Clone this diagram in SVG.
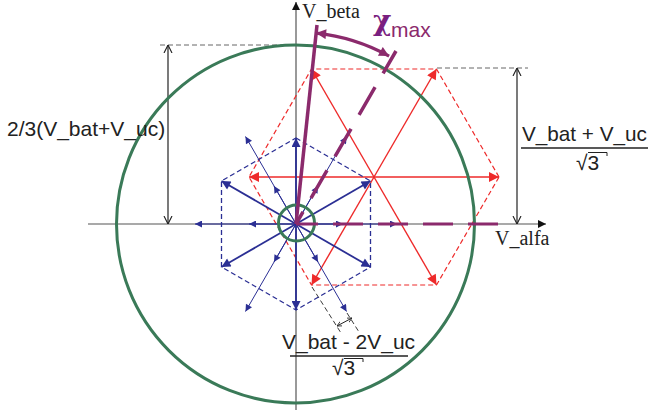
<svg xmlns="http://www.w3.org/2000/svg" width="654" height="416" viewBox="0 0 654 416">
<style>
.ax{stroke:#555;stroke-width:1.2;fill:none}
.dim{stroke:#222;stroke-width:1.2;fill:none}
.ext{stroke:#555;stroke-width:0.9;stroke-dasharray:5 3;fill:none}
.red{stroke:#ee2a2a;stroke-width:1.4;fill:none}
.redd{stroke:#ee2a2a;stroke-width:1.2;stroke-dasharray:5 3;fill:none}
.bt{stroke:#2b2f94;stroke-width:1.8;fill:none}
.bn{stroke:#2b2f94;stroke-width:1;fill:none}
.bd{stroke:#2b2f94;stroke-width:1.3;stroke-dasharray:5 3;fill:none}
.gr{stroke:#3a7a58;stroke-width:3;fill:none}
.pu{stroke:#8b2a6c;stroke-width:3.5;fill:none}
.sans{font-family:"Liberation Sans",Arial,sans-serif;fill:#222}
.serif{font-family:"Liberation Serif","Times New Roman",serif;fill:#222}
</style>
<defs>
<marker id="axh" viewBox="0 0 10 10" refX="10" refY="5" markerUnits="userSpaceOnUse" markerWidth="11" markerHeight="8" orient="auto"><path d="M0,0 L10,5 L0,10 z" fill="#111"/></marker>
<marker id="dimh" viewBox="0 0 10 10" refX="10" refY="5" markerUnits="userSpaceOnUse" markerWidth="8" markerHeight="10" orient="auto-start-reverse"><path d="M0,0 L10,5 L0,10" fill="none" stroke="#222" stroke-width="1.4"/></marker>
<marker id="smh" viewBox="0 0 10 10" refX="10" refY="5" markerUnits="userSpaceOnUse" markerWidth="5" markerHeight="6" orient="auto-start-reverse"><path d="M0,0 L10,5 L0,10" fill="none" stroke="#222" stroke-width="1.6"/></marker>
<marker id="rh" viewBox="0 0 10 10" refX="10" refY="5" markerUnits="userSpaceOnUse" markerWidth="15" markerHeight="10" orient="auto"><path d="M0,0 L10,5 L0,10 z" fill="#ee2a2a"/></marker>
<marker id="bth" viewBox="0 0 10 10" refX="10" refY="5" markerUnits="userSpaceOnUse" markerWidth="13" markerHeight="9" orient="auto"><path d="M0,0 L10,5 L0,10 z" fill="#2b2f94"/></marker>
<marker id="bnh" viewBox="0 0 10 10" refX="10" refY="5" markerUnits="userSpaceOnUse" markerWidth="10" markerHeight="7" orient="auto"><path d="M0,0 L10,5 L0,10 z" fill="#2b2f94"/></marker>
<marker id="ph" viewBox="0 0 10 10" refX="10" refY="5" markerUnits="userSpaceOnUse" markerWidth="14" markerHeight="10" orient="auto-start-reverse"><path d="M0,0 L10,5 L0,10 z" fill="#8b2a6c"/></marker>
</defs>

<g id="axes">
<line class="ax" x1="88" y1="224" x2="546" y2="224" marker-end="url(#axh)"/>
<line class="ax" x1="296" y1="410" x2="296" y2="2" marker-end="url(#axh)"/>
</g>

<g id="dimensions">
<line class="ext" x1="160" y1="45" x2="292" y2="45"/>
<line class="dim" x1="168" y1="45" x2="168" y2="224" marker-start="url(#dimh)" marker-end="url(#dimh)"/>
<line class="ext" x1="437" y1="68" x2="528" y2="68"/>
<line class="dim" x1="517" y1="68" x2="517" y2="224" marker-start="url(#dimh)" marker-end="url(#dimh)"/>
<line class="ext" x1="312" y1="287" x2="341" y2="333" style="stroke:#222"/>
<line class="ext" x1="347" y1="313" x2="359" y2="332" style="stroke:#222"/>
<line class="dim" x1="337" y1="326" x2="352" y2="318" style="stroke-width:1" marker-start="url(#smh)" marker-end="url(#smh)"/>
</g>

<g id="red-hexagon">
<polygon class="redd" points="499,177 436.5,69 311.5,69 249,177 311.5,285 436.5,285"/>
<g id="red-vectors">
<line class="red" x1="374" y1="177" x2="499" y2="177" marker-end="url(#rh)"/>
<line class="red" x1="374" y1="177" x2="249" y2="177" marker-end="url(#rh)"/>
<line class="red" x1="374" y1="177" x2="436.5" y2="69" marker-end="url(#rh)"/>
<line class="red" x1="374" y1="177" x2="311.5" y2="69" marker-end="url(#rh)"/>
<line class="red" x1="374" y1="177" x2="311.5" y2="285" marker-end="url(#rh)"/>
<line class="red" x1="374" y1="177" x2="436.5" y2="285" marker-end="url(#rh)"/>
</g>
</g>

<g id="blue-hexagon">
<polygon class="bd" points="296,138 370.5,181 370.5,267 296,310 221.5,267 221.5,181"/>
<g id="blue-vectors">
<line class="bt" x1="296" y1="224" x2="296" y2="138" marker-end="url(#bth)"/>
<line class="bt" x1="296" y1="224" x2="370.5" y2="181" marker-end="url(#bth)"/>
<line class="bt" x1="296" y1="224" x2="370.5" y2="267" marker-end="url(#bth)"/>
<line class="bt" x1="296" y1="224" x2="296" y2="310" marker-end="url(#bth)"/>
<line class="bt" x1="296" y1="224" x2="221.5" y2="267" marker-end="url(#bth)"/>
<line class="bt" x1="296" y1="224" x2="221.5" y2="181" marker-end="url(#bth)"/>
<line class="bn" x1="296" y1="224" x2="397" y2="224" marker-end="url(#bnh)"/>
<line class="bn" x1="296" y1="224" x2="346.5" y2="136.5" marker-end="url(#bnh)"/>
<line class="bn" x1="296" y1="224" x2="245.5" y2="136.5" marker-end="url(#bnh)"/>
<line class="bn" x1="296" y1="224" x2="195" y2="224" marker-end="url(#bnh)"/>
<line class="bn" x1="296" y1="224" x2="245.5" y2="311.5" marker-end="url(#bnh)"/>
<line class="bn" x1="296" y1="224" x2="346.5" y2="311.5" marker-end="url(#bnh)"/>
<line class="bn" x1="296" y1="224" x2="343" y2="224" marker-end="url(#bnh)"/>
<line class="bn" x1="296" y1="224" x2="318" y2="186" marker-end="url(#bnh)"/>
<line class="bn" x1="296" y1="224" x2="274" y2="186" marker-end="url(#bnh)"/>
<line class="bn" x1="296" y1="224" x2="249" y2="224" marker-end="url(#bnh)"/>
<line class="bn" x1="296" y1="224" x2="274" y2="262" marker-end="url(#bnh)"/>
<line class="bn" x1="296" y1="224" x2="318" y2="262" marker-end="url(#bnh)"/>
</g>
</g>

<g id="circles">
<circle class="gr" cx="295.5" cy="224" r="179"/>
<circle class="gr" cx="296.5" cy="223" r="18"/>
</g>

<g id="vmax">
<line class="pu" x1="296" y1="224" x2="317" y2="25"/>
<line class="pu" x1="296" y1="224" x2="396" y2="51" style="stroke-dasharray:32 16;stroke-dashoffset:18"/>
<line class="pu" x1="296" y1="224" x2="498" y2="224" style="stroke-dasharray:30 15;stroke-dashoffset:8;stroke-width:3"/>
<path class="pu" d="M316.1,33.1 A192,192 0 0,1 389.1,56.1" style="stroke-width:3.2" marker-start="url(#ph)" marker-end="url(#ph)"/>
</g>

<g id="labels">
<text class="serif" x="302" y="18" font-size="20">V_beta</text>
<text class="serif" x="495" y="245" font-size="20">V_alfa</text>
<text x="373" y="30" font-family="'DejaVu Serif',serif" font-weight="bold" font-size="28" fill="#7a1f80">χ</text>
<text x="391" y="37" font-family="'Liberation Sans',Arial,sans-serif" font-size="21" fill="#8b2a6c">max</text>
<text class="sans" x="7" y="136" font-size="21">2/3(V_bat+V_uc)</text>
<text class="sans" x="522" y="141" font-size="20.7">V_bat + V_uc</text>
<line x1="521" y1="148" x2="648" y2="148" stroke="#222" stroke-width="1.3"/>
<text class="sans" x="576" y="170" font-size="21">√3</text>
<path d="M588,152.5 H607 V156" fill="none" stroke="#222" stroke-width="1"/>
<text class="sans" x="282" y="349" font-size="21">V_bat - 2V_uc</text>
<line x1="290" y1="356" x2="408" y2="356" stroke="#222" stroke-width="1.3"/>
<text class="sans" x="332" y="375" font-size="21">√3</text>
<path d="M344,358.5 H363 V362" fill="none" stroke="#222" stroke-width="1"/>
</g>
</svg>
